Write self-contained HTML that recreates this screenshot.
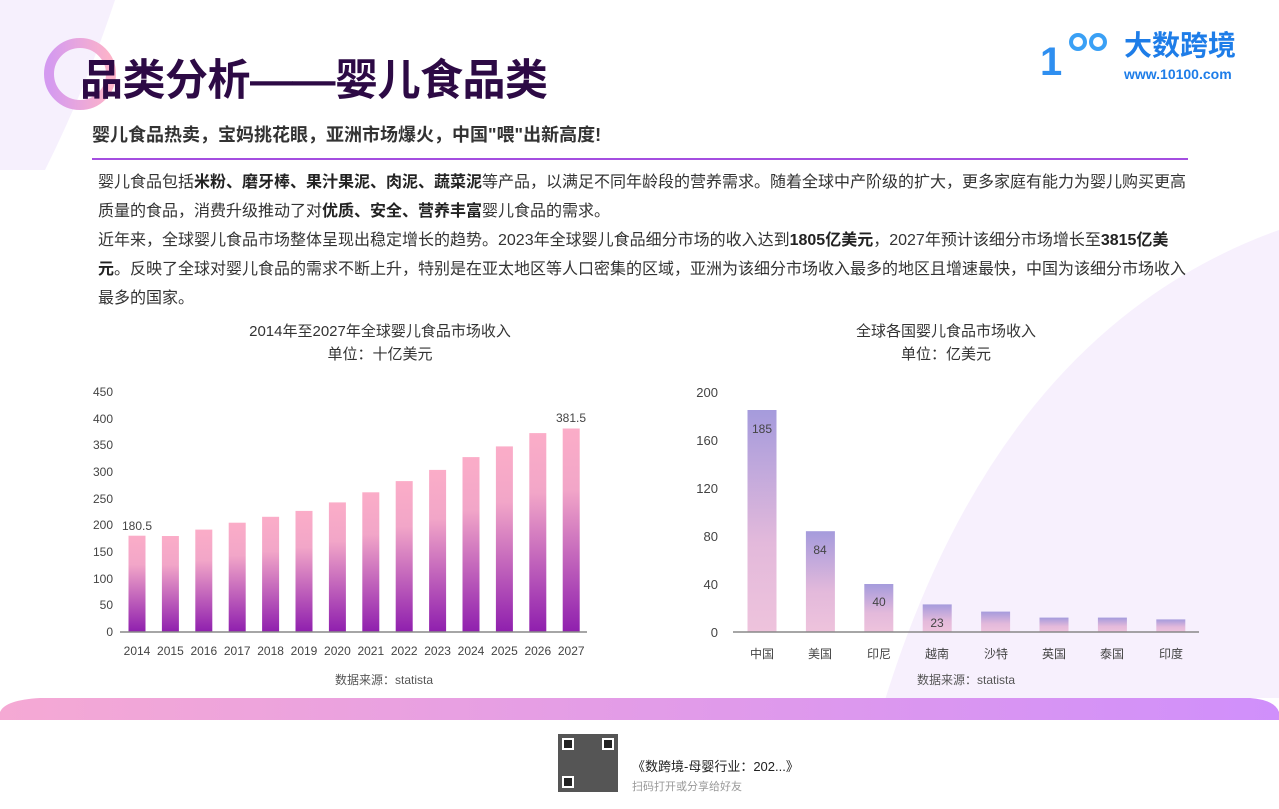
<!DOCTYPE html>
<html><head><meta charset="utf-8"><style>
body{margin:0;width:1279px;height:809px;overflow:hidden;background:#fff;position:relative;font-family:"Liberation Sans","Noto Sans CJK SC",sans-serif;}
.p{position:absolute;left:98px;font-size:16px;color:#333;white-space:nowrap;line-height:29px;}
b{color:#222}
</style></head><body>
<svg width="1279" height="809" style="position:absolute;left:0;top:0">
<defs>
<linearGradient id="lg" x1="0" y1="0" x2="0" y2="1"><stop offset="0" stop-color="#fbadc8"/><stop offset="0.3" stop-color="#f2a6c8"/><stop offset="1" stop-color="#8f1fae"/></linearGradient>
<linearGradient id="rg" x1="0" y1="0" x2="0" y2="1"><stop offset="0" stop-color="#a59bdc"/><stop offset="0.6" stop-color="#e3b9db"/><stop offset="1" stop-color="#eec3dc"/></linearGradient>
<linearGradient id="band" x1="0" y1="0" x2="1" y2="0"><stop offset="0" stop-color="#f5a9d4"/><stop offset="1" stop-color="#d08ffb"/></linearGradient>
<linearGradient id="ring" x1="0" y1="0" x2="1" y2="0"><stop offset="0" stop-color="#d49af0"/><stop offset="1" stop-color="#fdb3c9"/></linearGradient>
</defs>
<path d="M0,0 L115,0 Q85,90 45,170 L0,170 Z" fill="#f6f0fd"/>
<path d="M1279,230 Q1000,330 885,700 L1279,700 Z" fill="#f7f0fd"/>
<circle cx="80" cy="74" r="31" fill="none" stroke="url(#ring)" stroke-width="10"/>
<rect x="0" y="698" width="1279" height="22" fill="url(#band)"/>
<path d="M1250,698 Q1275,700 1279,712 L1279,698Z" fill="#fff"/>
<path d="M0,698 L40,698 Q5,700 0,712Z" fill="#fff"/>
<line x1="92" y1="159" x2="1188" y2="159" stroke="#a44ee0" stroke-width="2"/>
<g font-size="12" fill="#444" text-anchor="end">
<text x="113" y="636">0</text><text x="113" y="609">50</text><text x="113" y="583">100</text><text x="113" y="556">150</text><text x="113" y="529">200</text><text x="113" y="503">250</text><text x="113" y="476">300</text><text x="113" y="449">350</text><text x="113" y="423">400</text><text x="113" y="396">450</text>
</g>
<g fill="url(#lg)">
<rect x="128.5" y="535.7" width="17" height="96.3"/><rect x="161.9" y="536" width="17" height="96"/><rect x="195.3" y="529.6" width="17" height="102.4"/><rect x="228.7" y="522.7" width="17" height="109.3"/><rect x="262.1" y="516.8" width="17" height="115.2"/><rect x="295.5" y="510.9" width="17" height="121.1"/><rect x="328.9" y="502.4" width="17" height="129.6"/><rect x="362.3" y="492.3" width="17" height="139.7"/><rect x="395.7" y="481.1" width="17" height="150.9"/><rect x="429.1" y="469.9" width="17" height="162.1"/><rect x="462.5" y="457.1" width="17" height="174.9"/><rect x="495.9" y="446.4" width="17" height="185.6"/><rect x="529.3" y="433.1" width="17" height="198.9"/><rect x="562.7" y="428.5" width="17" height="203.5"/>
</g>
<line x1="120" y1="632" x2="587" y2="632" stroke="#888" stroke-width="1.5"/>
<g font-size="12" fill="#444" text-anchor="middle">
<text x="137" y="530">180.5</text><text x="571" y="422">381.5</text>
<text x="137" y="655">2014</text><text x="170.4" y="655">2015</text><text x="203.8" y="655">2016</text><text x="237.2" y="655">2017</text><text x="270.6" y="655">2018</text><text x="304" y="655">2019</text><text x="337.4" y="655">2020</text><text x="370.8" y="655">2021</text><text x="404.2" y="655">2022</text><text x="437.6" y="655">2023</text><text x="471" y="655">2024</text><text x="504.4" y="655">2025</text><text x="537.8" y="655">2026</text><text x="571.2" y="655">2027</text>
<text x="384" y="684" fill="#555">数据来源：statista</text>
<text x="380" y="336" font-size="15" fill="#333">2014年至2027年全球婴儿食品市场收入</text>
<text x="380" y="359" font-size="15" fill="#333">单位：十亿美元</text>
<text x="946" y="336" font-size="15" fill="#333">全球各国婴儿食品市场收入</text>
<text x="946" y="359" font-size="15" fill="#333">单位：亿美元</text>
</g>
<g font-size="13" fill="#444" text-anchor="end">
<text x="718" y="637">0</text><text x="718" y="589">40</text><text x="718" y="541">80</text><text x="718" y="493">120</text><text x="718" y="445">160</text><text x="718" y="397">200</text>
</g>
<g fill="url(#rg)">
<rect x="747.5" y="410" width="29" height="222"/><rect x="805.9" y="531.2" width="29" height="100.8"/><rect x="864.3" y="584" width="29" height="48"/><rect x="922.7" y="604.4" width="29" height="27.6"/><rect x="981.1" y="611.6" width="29" height="20.4"/><rect x="1039.5" y="617.6" width="29" height="14.4"/><rect x="1097.9" y="617.6" width="29" height="14.4"/><rect x="1156.3" y="619.4" width="29" height="12.6"/>
</g>
<line x1="733" y1="632" x2="1199" y2="632" stroke="#888" stroke-width="1.5"/>
<g font-size="12" fill="#444" text-anchor="middle">
<text x="762" y="433">185</text><text x="820" y="554">84</text><text x="879" y="606">40</text><text x="937" y="627">23</text>
<text x="762" y="658">中国</text><text x="820" y="658">美国</text><text x="879" y="658">印尼</text><text x="937" y="658">越南</text><text x="996" y="658">沙特</text><text x="1054" y="658">英国</text><text x="1112" y="658">泰国</text><text x="1171" y="658">印度</text>
<text x="966" y="684" fill="#555">数据来源：statista</text>
</g>
<rect x="558" y="734" width="60" height="58" fill="#555"/>
<rect x="562" y="738" width="12" height="12" fill="#fff"/><rect x="564" y="740" width="8" height="8" fill="#222"/>
<rect x="602" y="738" width="12" height="12" fill="#fff"/><rect x="604" y="740" width="8" height="8" fill="#222"/>
<rect x="562" y="776" width="12" height="12" fill="#fff"/><rect x="564" y="778" width="8" height="8" fill="#222"/>
<text x="632" y="771" font-size="13" fill="#222">《数跨境-母婴行业：202...》</text>
<text x="632" y="790" font-size="11" fill="#999">扫码打开或分享给好友</text>
<text x="1040" y="75" font-size="40" font-weight="bold" fill="#2f8ff0">1</text>
<circle cx="1078" cy="42" r="7" fill="none" stroke="#3aa0f5" stroke-width="4"/>
<circle cx="1098" cy="42" r="7" fill="none" stroke="#3aa0f5" stroke-width="4"/>
<text x="1124" y="55" font-size="28" font-weight="bold" fill="#1e7de8">大数跨境</text>
<text x="1124" y="79" font-size="14" font-weight="bold" fill="#1e7de8">www.10100.com</text>
</svg>
<div style="position:absolute;left:80px;top:54px;font-size:43px;font-weight:bold;color:#2d0a45;white-space:nowrap;line-height:54px;letter-spacing:-0.5px">品类分析——婴儿食品类</div>
<div style="position:absolute;left:92px;top:121px;font-size:18px;font-weight:bold;color:#333;white-space:nowrap">婴儿食品热卖，宝妈挑花眼，亚洲市场爆火，中国"喂"出新高度!</div>
<div class="p" style="top:168px">婴儿食品包括<b>米粉、磨牙棒、果汁果泥、肉泥、蔬菜泥</b>等产品，以满足不同年龄段的营养需求。随着全球中产阶级的扩大，更多家庭有能力为婴儿购买更高</div>
<div class="p" style="top:197px">质量的食品，消费升级推动了对<b>优质、安全、营养丰富</b>婴儿食品的需求。</div>
<div class="p" style="top:226px">近年来，全球婴儿食品市场整体呈现出稳定增长的趋势。2023年全球婴儿食品细分市场的收入达到<b>1805亿美元</b>，2027年预计该细分市场增长至<b>3815亿美</b></div>
<div class="p" style="top:255px"><b>元</b>。反映了全球对婴儿食品的需求不断上升，特别是在亚太地区等人口密集的区域，亚洲为该细分市场收入最多的地区且增速最快，中国为该细分市场收入</div>
<div class="p" style="top:284px">最多的国家。</div>
</body></html>
